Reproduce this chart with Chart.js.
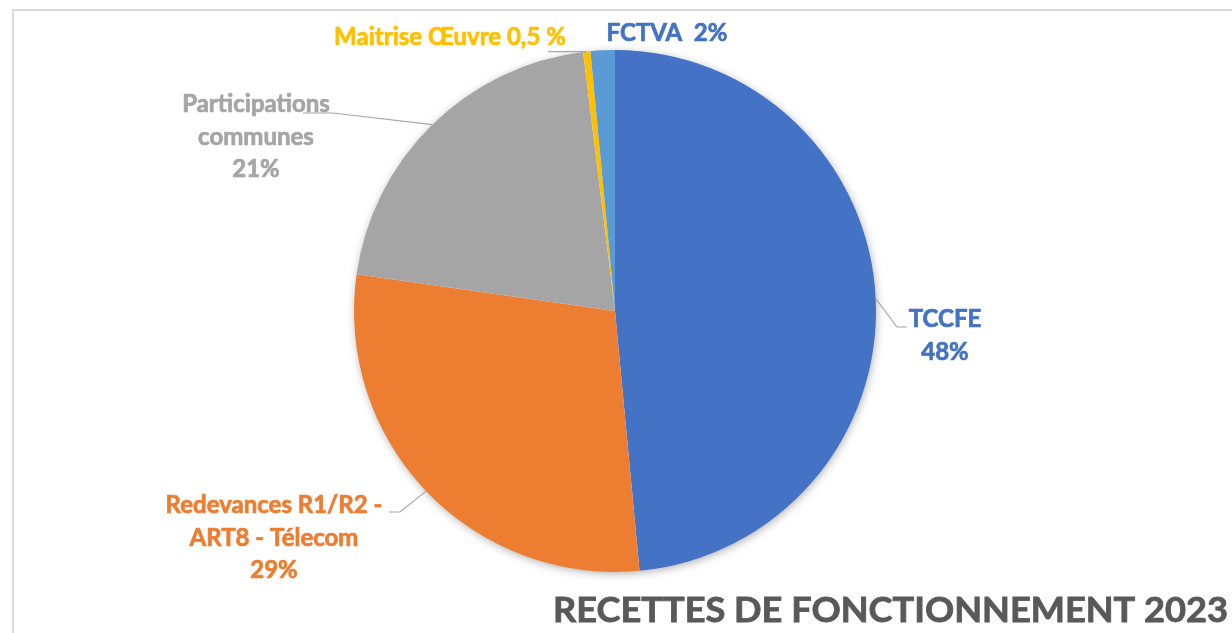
<!DOCTYPE html>
<html>
<head>
<meta charset="utf-8">
<script src="https://cdn.jsdelivr.net/npm/chart.js@4.4.1/dist/chart.umd.min.js"></script>
<style>
  html, body { margin: 0; padding: 0; background: #fff; overflow: hidden; }
  #wrap { position: relative; width: 1232px; height: 633px; }
</style>
</head>
<body>
<div id="wrap"><canvas id="pieChart" width="1232" height="633"></canvas></div>
<script>
// ==================== DONNÉES ====================
const categories = [
    ["TCCFE"],
    ["Redevances R1/R2 -", "ART8 - Télecom"],
    ["Participations", "communes"],
    ["Maitrise Œuvre"],
    ["FCTVA"]
];
const values = [48.5, 28.75, 20.8, 0.45, 1.5];
const pctLabels = ["48%", "29%", "21%", "0,5 %", "2%"];
const chartTitle = "RECETTES DE FONCTIONNEMENT 2023";

const sliceColors = ["#4472C4", "#ED7D31", "#A5A5A5", "#FFC000", "#5B9BD5"];
const textColors = ["#4472C4", "#ED7D31", "#A5A5A5", "#FFC000", "#4472C4"];

// placement des étiquettes, relatif au centre du camembert
const labelLayout = [
    { elbow: [282, 16], end: [292, 16], tx: 330, base: 16, inline: false },
    { elbow: [-215, 201], end: [-226, 201], tx: -341, base: 202, inline: false },
    { elbow: [-282, -198], end: [-312, -198], tx: -359, base: -199, inline: false },
    { elbow: null, end: [-67, -260], tx: -165, base: -266, inline: true },
    { elbow: null, end: null, tx: 52, base: -270, inline: true, sep: "  " }
];

const FONT = "Lato, 'Open Sans', sans-serif";

// ==================== PLUGINS ====================
const frameAndShadow = {
    id: "frameAndShadow",
    beforeDatasetsDraw(chart) {
        const { ctx } = chart;
        ctx.save();
        ctx.strokeStyle = "#DADADA";
        ctx.lineWidth = 2;
        ctx.strokeRect(13, 10, 1400, 800);
        const arc = chart.getDatasetMeta(0).data[0];
        ctx.shadowColor = "rgba(0,0,0,0.35)";
        ctx.shadowBlur = 10;
        ctx.shadowOffsetX = 1;
        ctx.shadowOffsetY = 2;
        ctx.fillStyle = "#fff";
        ctx.beginPath();
        ctx.arc(arc.x, arc.y, arc.outerRadius - 1, 0, Math.PI * 2);
        ctx.fill();
        ctx.restore();
    }
};

function boldText(ctx, t, x, y) {
    ctx.fillText(t, x, y);
    ctx.strokeText(t, x, y);
}

const sliceLabels = {
    id: "sliceLabels",
    afterDatasetsDraw(chart) {
        const { ctx } = chart;
        const arcs = chart.getDatasetMeta(0).data;
        const cx = arcs[0].x, cy = arcs[0].y;
        ctx.save();
        arcs.forEach((arc, i) => {
            const lay = labelLayout[i];
            const mid = (arc.startAngle + arc.endAngle) / 2;
            const px = cx + Math.cos(mid) * arc.outerRadius;
            const py = cy + Math.sin(mid) * arc.outerRadius;
            if (lay.end) {
                ctx.strokeStyle = "#A6A6A6";
                ctx.lineWidth = 1.2;
                ctx.beginPath();
                ctx.moveTo(px, py);
                if (lay.elbow) ctx.lineTo(cx + lay.elbow[0], cy + lay.elbow[1]);
                ctx.lineTo(cx + lay.end[0], lay.elbow ? cy + lay.end[1] : py);
                ctx.stroke();
            }
            const lines = lay.inline
                ? [categories[i].join(" ") + (lay.sep || " ") + pctLabels[i]]
                : [...categories[i], pctLabels[i]];
            ctx.fillStyle = textColors[i];
            ctx.strokeStyle = textColors[i];
            ctx.lineWidth = 0.7;
            ctx.font = "bold 24px " + FONT;
            ctx.textAlign = "center";
            ctx.textBaseline = "alphabetic";
            lines.forEach((t, k) => {
                boldText(ctx, t, cx + lay.tx, cy + lay.base + k * 32.5);
            });
        });
        // titre
        ctx.fillStyle = "#595959";
        ctx.strokeStyle = "#595959";
        ctx.lineWidth = 0.8;
        ctx.font = "bold 34px " + FONT;
        ctx.textAlign = "left";
        const w = ctx.measureText(chartTitle).width;
        ctx.translate(553, 622);
        ctx.scale(675 / w, 1);
        boldText(ctx, chartTitle, 0, 0);
        ctx.restore();
    }
};

// ==================== GRAPHIQUE ====================
const ctx = document.getElementById("pieChart").getContext("2d");
new Chart(ctx, {
    type: "pie",
    data: {
        labels: categories.map(c => c.join(" ")),
        datasets: [{
            data: values,
            backgroundColor: sliceColors,
            borderWidth: 0
        }]
    },
    options: {
        responsive: false,
        animation: false,
        layout: { padding: { top: 50, bottom: 61, left: 354, right: 356 } },
        plugins: {
            legend: { display: false },
            tooltip: { enabled: false },
            title: { display: false }
        }
    },
    plugins: [frameAndShadow, sliceLabels]
});
</script>
</body>
</html>
